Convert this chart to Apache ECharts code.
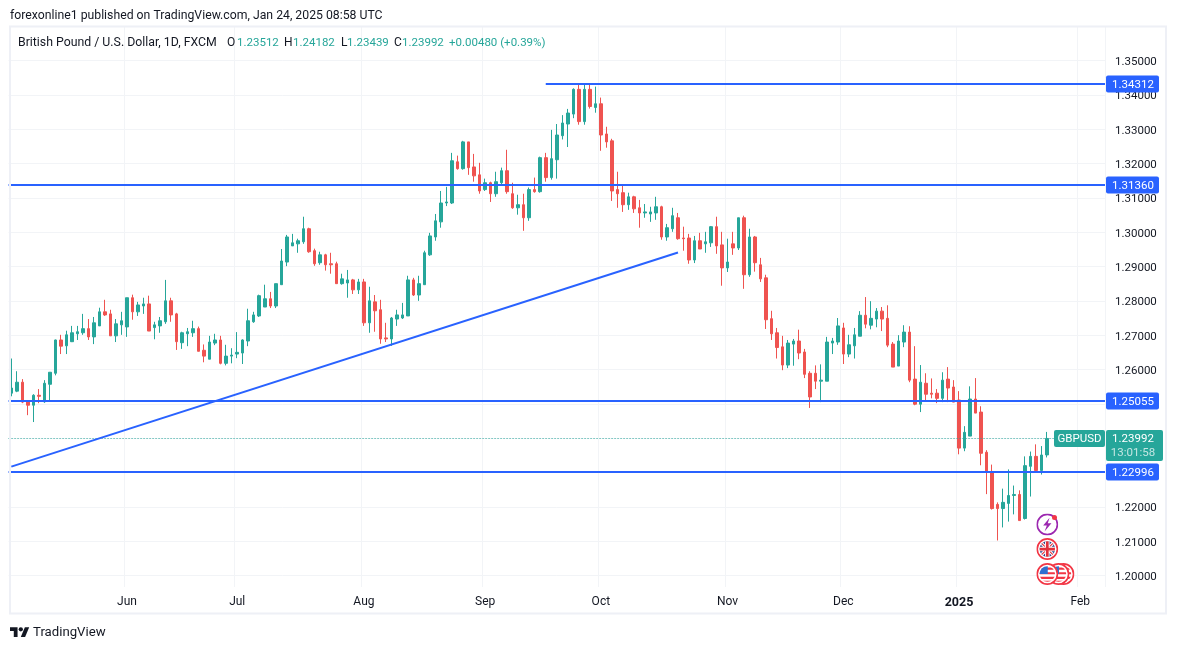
<!DOCTYPE html>
<html>
<head>
<meta charset="utf-8">
<title>GBPUSD</title>
<script src="https://cdn.jsdelivr.net/npm/echarts@6/dist/echarts.min.js"></script>
<style>
  html, body { margin: 0; padding: 0; background: #fff; }
  #chart { width: 1177px; height: 650px; }
</style>
</head>
<body>
<div id="chart"></div>
<script>
const UP = '#26a69a'
const DOWN = '#ef5350'
const BLUE = '#2962ff'
const GRID = '#f2f4f7'
const FONT = 'Roboto, sans-serif'

// daily bars, May 3 2024 - Jan 24 2025: open, close, low, high
const bars = [
  [1.2531,1.2546,1.2522,1.2632],[1.2537,1.2563,1.2534,1.2595],[1.2563,1.2505,1.2502,1.2572],[1.2508,1.2496,1.2467,1.2511],
  [1.2496,1.2525,1.2447,1.2528],[1.2525,1.2522,1.2502,1.2543],[1.2506,1.2560,1.2503,1.2569],[1.2557,1.2592,1.2511,1.2592],
  [1.2589,1.2686,1.2583,1.2687],[1.2686,1.2668,1.2645,1.2701],[1.2669,1.2701,1.2645,1.2713],[1.2681,1.2707,1.2680,1.2727],
  [1.2704,1.2710,1.2686,1.2727],[1.2707,1.2719,1.2701,1.2762],[1.2719,1.2695,1.2686,1.2747],[1.2695,1.2736,1.2674,1.2753],
  [1.2727,1.2768,1.2727,1.2780],[1.2768,1.2759,1.2756,1.2803],[1.2762,1.2698,1.2698,1.2774],[1.2698,1.2733,1.2680,1.2747],
  [1.2730,1.2742,1.2701,1.2768],[1.2724,1.2809,1.2695,1.2809],[1.2809,1.2768,1.2745,1.2818],[1.2768,1.2788,1.2756,1.2797],
  [1.2785,1.2791,1.2762,1.2809],[1.2791,1.2712,1.2712,1.2815],[1.2722,1.2730,1.2688,1.2739],[1.2727,1.2742,1.2707,1.2753],
  [1.2739,1.2800,1.2733,1.2861],[1.2800,1.2759,1.2739,1.2809],[1.2762,1.2681,1.2657,1.2765],[1.2678,1.2707,1.2660,1.2710],
  [1.2704,1.2710,1.2668,1.2721],[1.2707,1.2719,1.2695,1.2742],[1.2719,1.2653,1.2653,1.2725],[1.2656,1.2639,1.2621,1.2673],
  [1.2630,1.2680,1.2630,1.2698],[1.2677,1.2686,1.2671,1.2704],[1.2686,1.2618,1.2615,1.2698],[1.2618,1.2639,1.2612,1.2672],
  [1.2639,1.2642,1.2618,1.2662],[1.2645,1.2650,1.2633,1.2709],[1.2648,1.2686,1.2616,1.2688],[1.2683,1.2742,1.2668,1.2777],
  [1.2739,1.2759,1.2736,1.2768],[1.2756,1.2815,1.2753,1.2818],[1.2782,1.2806,1.2782,1.2847],[1.2806,1.2785,1.2779,1.2826],
  [1.2785,1.2850,1.2779,1.2850],[1.2847,1.2916,1.2847,1.2951],[1.2913,1.2986,1.2901,1.2992],[1.2960,1.2969,1.2960,1.2995],
  [1.2966,1.2975,1.2940,1.2981],[1.2972,1.3010,1.2966,1.3045],[1.3010,1.2943,1.2940,1.3013],[1.2946,1.2908,1.2902,1.2952],
  [1.2911,1.2934,1.2905,1.2943],[1.2934,1.2905,1.2888,1.2937],[1.2908,1.2905,1.2879,1.2940],[1.2908,1.2850,1.2850,1.2914],
  [1.2850,1.2864,1.2847,1.2879],[1.2852,1.2861,1.2809,1.2890],[1.2861,1.2832,1.2820,1.2864],[1.2832,1.2855,1.2820,1.2864],
  [1.2855,1.2736,1.2727,1.2864],[1.2736,1.2800,1.2707,1.2841],[1.2797,1.2771,1.2710,1.2817],[1.2774,1.2689,1.2675,1.2803],
  [1.2692,1.2689,1.2680,1.2736],[1.2689,1.2750,1.2669,1.2753],[1.2747,1.2759,1.2727,1.2774],[1.2750,1.2759,1.2747,1.2794],
  [1.2756,1.2861,1.2756,1.2873],[1.2861,1.2817,1.2814,1.2867],[1.2817,1.2850,1.2800,1.2873],[1.2847,1.2940,1.2847,1.2946],
  [1.2934,1.2989,1.2931,1.2998],[1.2986,1.3033,1.2975,1.3053],[1.3030,1.3085,1.3013,1.3120],[1.3085,1.3088,1.3076,1.3132],
  [1.3085,1.3208,1.3082,1.3231],[1.3205,1.3185,1.3182,1.3223],[1.3185,1.3263,1.3182,1.3266],[1.3263,1.3188,1.3167,1.3263],
  [1.3190,1.3164,1.3147,1.3228],[1.3167,1.3120,1.3112,1.3202],[1.3124,1.3144,1.3120,1.3156],[1.3144,1.3112,1.3088,1.3147],
  [1.3112,1.3147,1.3103,1.3176],[1.3144,1.3179,1.3138,1.3188],[1.3179,1.3118,1.3112,1.3240],[1.3112,1.3071,1.3068,1.3144],
  [1.3071,1.3080,1.3051,1.3109],[1.3080,1.3042,1.3004,1.3112],[1.3042,1.3124,1.3033,1.3130],[1.3124,1.3118,1.3115,1.3159],
  [1.3118,1.3217,1.3115,1.3220],[1.3217,1.3159,1.3147,1.3231],[1.3159,1.3214,1.3153,1.3298],[1.3211,1.3283,1.3156,1.3315],
  [1.3281,1.3318,1.3270,1.3341],[1.3315,1.3347,1.3248,1.3359],[1.3344,1.3416,1.3332,1.3419],[1.3416,1.3322,1.3313,1.3431],
  [1.3322,1.3416,1.3313,1.3434],[1.3416,1.3366,1.3360,1.3431],[1.3363,1.3374,1.3348,1.3424],[1.3374,1.3283,1.3237,1.3392],
  [1.3286,1.3263,1.3246,1.3307],[1.3266,1.3120,1.3091,1.3272],[1.3124,1.3112,1.3071,1.3176],[1.3115,1.3080,1.3059,1.3135],
  [1.3080,1.3103,1.3065,1.3115],[1.3103,1.3068,1.3056,1.3106],[1.3071,1.3056,1.3013,1.3094],[1.3056,1.3059,1.3042,1.3082],
  [1.3053,1.3059,1.3030,1.3074],[1.3056,1.3074,1.3036,1.3103],[1.3074,1.2986,1.2978,1.3077],[1.2986,1.3013,1.2975,1.3024],
  [1.3010,1.3048,1.3001,1.3071],[1.3042,1.2981,1.2978,1.3056],[1.2983,1.2981,1.2946,1.3016],[1.2983,1.2919,1.2908,1.2995],
  [1.2919,1.2975,1.2910,1.2989],[1.2975,1.2951,1.2951,1.2998],[1.2966,1.2972,1.2940,1.3001],[1.2969,1.3016,1.2957,1.3018],
  [1.3016,1.2960,1.2937,1.3045],[1.2963,1.2896,1.2844,1.3001],[1.2896,1.2913,1.2884,1.2981],[1.2966,1.2954,1.2934,1.3001],
  [1.2954,1.3042,1.2948,1.3042],[1.3042,1.2876,1.2835,1.3048],[1.2876,1.2986,1.2870,1.3010],[1.2986,1.2911,1.2885,1.2989],
  [1.2905,1.2864,1.2855,1.2925],[1.2867,1.2745,1.2718,1.2876],[1.2748,1.2704,1.2686,1.2771],[1.2707,1.2664,1.2632,1.2721],
  [1.2666,1.2613,1.2598,1.2698],[1.2613,1.2677,1.2604,1.2686],[1.2674,1.2683,1.2611,1.2689],[1.2683,1.2648,1.2630,1.2716],
  [1.2651,1.2586,1.2575,1.2660],[1.2589,1.2520,1.2488,1.2595],[1.2589,1.2566,1.2543,1.2612],[1.2566,1.2569,1.2505,1.2615],
  [1.2566,1.2680,1.2566,1.2695],[1.2677,1.2683,1.2645,1.2692],[1.2680,1.2727,1.2672,1.2750],[1.2721,1.2645,1.2616,1.2736],
  [1.2645,1.2672,1.2636,1.2701],[1.2669,1.2701,1.2632,1.2721],[1.2697,1.2758,1.2697,1.2770],[1.2758,1.2732,1.2720,1.2811],
  [1.2729,1.2749,1.2717,1.2799],[1.2747,1.2770,1.2723,1.2779],[1.2770,1.2747,1.2712,1.2782],[1.2749,1.2671,1.2665,1.2787],
  [1.2674,1.2607,1.2607,1.2680],[1.2610,1.2683,1.2610,1.2700],[1.2680,1.2709,1.2665,1.2729],[1.2709,1.2569,1.2563,1.2726],
  [1.2572,1.2499,1.2496,1.2668],[1.2499,1.2563,1.2476,1.2613],[1.2560,1.2528,1.2511,1.2589],[1.2531,1.2528,1.2516,1.2574],
  [1.2531,1.2516,1.2502,1.2543],[1.2516,1.2569,1.2505,1.2592],[1.2572,1.2546,1.2505,1.2607],[1.2549,1.2505,1.2505,1.2569],
  [1.2511,1.2371,1.2353,1.2537],[1.2371,1.2417,1.2362,1.2435],[1.2406,1.2514,1.2406,1.2551],[1.2514,1.2473,1.2473,1.2575],
  [1.2476,1.2356,1.2321,1.2493],[1.2359,1.2301,1.2237,1.2365],[1.2303,1.2195,1.2192,1.2323],[1.2207,1.2195,1.2102,1.2213],
  [1.2195,1.2213,1.2140,1.2253],[1.2210,1.2233,1.2157,1.2309],[1.2233,1.2236,1.2178,1.2262],[1.2236,1.2160,1.2160,1.2248],
  [1.2166,1.2320,1.2163,1.2347],[1.2318,1.2347,1.2230,1.2361],[1.2347,1.2306,1.2306,1.2382],[1.2306,1.2351,1.2294,1.2377],
  [1.23512,1.23992,1.23439,1.24182]
]

// weekdays without the two days FXCM is shut, plus the empty room on the right
const dates = []
const day = new Date(Date.UTC(2024, 4, 3))
while (dates.length < 199) {
  const iso = day.toISOString().slice(0, 10)
  const wd = day.getUTCDay()
  if (wd !== 0 && wd !== 6 && iso !== '2024-12-25' && iso !== '2025-01-01') dates.push(iso)
  day.setUTCDate(day.getUTCDate() + 1)
}

const MONTHS = ['Jan', 'Feb', 'Mar', 'Apr', 'May', 'Jun', 'Jul', 'Aug', 'Sep', 'Oct', 'Nov', 'Dec']
const isMonthStart = (index) => index > 0 && dates[index].slice(5, 7) !== dates[index - 1].slice(5, 7)

const priceTicks = []
for (let i = 120; i <= 135; i++) priceTicks.push(i / 100)

// drawing tools on the chart: from/to are bar indexes, toEnd runs on to the plot edge
const drawings = [
  { from: 97, start: 1.34312, end: 1.34312, toEnd: true },
  { from: 0, start: 1.3136, end: 1.3136, toEnd: true, fromEdge: true },
  { from: 0, start: 1.25055, end: 1.25055, toEnd: true, fromEdge: true },
  { from: 0, start: 1.22996, end: 1.22996, toEnd: true, fromEdge: true },
  { from: 0, to: 121, start: 1.2317, end: 1.2941 }
]
const tags = [1.34312, 1.3136, 1.25055, 1.22996]
const lastPrice = bars[bars.length - 1][1]

const renderDrawing = (params, api) => {
  const d = drawings[params.dataIndex]
  const box = params.coordSys
  const a = api.coord([d.from, d.start])
  const b = api.coord([d.to === undefined ? d.from : d.to, d.end])
  // horizontals sit on whole pixels so they stay sharp
  const flat = d.start === d.end
  return {
    type: 'line',
    shape: {
      x1: d.fromEdge ? box.x : a[0],
      y1: flat ? Math.floor(a[1]) : a[1],
      x2: d.toEnd ? box.x + box.width : b[0],
      y2: flat ? Math.floor(b[1]) : b[1]
    },
    style: { stroke: BLUE, lineWidth: 2 }
  }
}

const tagText = (text, x, y, fill) => ({
  type: 'text',
  style: { text, x, y, fill, font: '11.5px ' + FONT, align: 'center', verticalAlign: 'middle' }
})

const renderTag = (params, api) => {
  const price = tags[params.dataIndex]
  const box = params.coordSys
  const y = Math.floor(api.coord([0, price])[1])
  const x = box.x + box.width + 1
  return {
    type: 'group',
    children: [
      { type: 'rect', shape: { x, y: y - 8.5, width: 53, height: 17, r: 2 }, style: { fill: BLUE } },
      tagText(price.toFixed(5), x + 27, y + 1, '#fff')
    ]
  }
}

const renderLast = (params, api) => {
  const box = params.coordSys
  const y = Math.round(api.coord([0, lastPrice])[1]) + 0.5
  const x = box.x + box.width + 1
  return {
    type: 'group',
    children: [
      {
        type: 'line',
        shape: { x1: box.x, y1: y, x2: x - 52, y2: y },
        style: { stroke: UP, lineWidth: 1, lineDash: [1, 2] }
      },
      { type: 'rect', shape: { x: x - 52, y: y - 8.5, width: 51, height: 17, r: 2 }, style: { fill: UP } },
      tagText('GBPUSD', x - 26.5, y + 1, '#fff'),
      { type: 'rect', shape: { x, y: y - 8.5, width: 57, height: 31, r: 2 }, style: { fill: UP } },
      tagText(lastPrice.toFixed(5), x + 27, y + 1, '#fff'),
      tagText('13:01:58', x + 27, y + 15, '#c4e6e2')
    ]
  }
}

// little event badges at the bottom of the chart
const badge = (inner, ring) => {
  const svg = '<svg xmlns="http://www.w3.org/2000/svg" width="48" height="48" viewBox="0 0 24 24">' +
    '<defs><clipPath id="c"><circle cx="12" cy="12" r="8.4"/></clipPath></defs>' +
    '<circle cx="12" cy="12" r="11" fill="#fff" stroke="' + ring + '" stroke-width="1.8"/>' +
    '<g clip-path="url(#c)">' + inner + '</g></svg>'
  return 'data:image/svg+xml;charset=utf-8,' + encodeURIComponent(svg)
}
const usFlag = '<rect width="24" height="24" fill="#fff"/>' +
  '<path d="M0 5h24v2.4H0zM0 10h24v2.4H0zM0 15h24v2.4H0zM0 19.4h24v3H0z" fill="#f23645"/>' +
  '<rect x="3" y="3" width="9.5" height="9" fill="#2f6fd0"/>'
const ukFlag = '<rect width="24" height="24" fill="#27408b"/>' +
  '<path d="M2 2l20 20M22 2L2 22" stroke="#fff" stroke-width="3.4"/>' +
  '<path d="M2 2l20 20M22 2L2 22" stroke="#e0303c" stroke-width="1.2"/>' +
  '<path d="M12 0v24M0 12h24" stroke="#fff" stroke-width="5"/>' +
  '<path d="M12 0v24M0 12h24" stroke="#e0303c" stroke-width="3"/>'
const bolt = '<path d="M14.5 4.5L7.5 13h4l-2.5 6.5 7.5-8.8h-4z" fill="#9c27b0"/>'

const badgeAt = (uri, x, y) => ({
  type: 'image',
  z: 10,
  style: { image: uri, x: x - 11, y: y - 11, width: 22, height: 22 }
})

const label = (text, x, color, size) => ({
  type: 'text',
  z: 10,
  x,
  y: 43,
  style: { text, fill: color, font: (size || 11.5) + 'px ' + FONT, verticalAlign: 'middle' }
})

const option = {
  animation: false,
  backgroundColor: '#fff',
  textStyle: { fontFamily: FONT },
  grid: { left: 8.55, top: 27, width: 1096.45, height: 560 },
  xAxis: {
    type: 'category',
    data: dates,
    boundaryGap: true,
    axisLine: { show: false },
    axisTick: { show: false },
    axisLabel: {
      interval: (index) => isMonthStart(index),
      hideOverlap: false,
      margin: 9,
      fontSize: 12,
      color: '#131722',
      formatter: (value) => {
        const [year, month] = value.split('-')
        return month === '01' ? '{year|' + year + '}' : MONTHS[Number(month) - 1]
      },
      rich: { year: { fontWeight: 'bold', fontSize: 12.5, color: '#131722' } }
    },
    splitLine: {
      show: true,
      interval: (index) => isMonthStart(index),
      lineStyle: { color: GRID, width: 1 }
    }
  },
  yAxis: {
    type: 'value',
    position: 'right',
    min: 1.19665,
    max: 1.35976,
    scale: true,
    axisLine: { show: false },
    axisTick: { show: false, customValues: priceTicks },
    axisLabel: {
      customValues: priceTicks,
      margin: 10,
      formatter: (value) => '{p|' + value.toFixed(5) + '}',
      rich: { p: { fontSize: 11.5, color: '#131722', padding: [3, 0, 0, 0] } }
    },
    splitLine: { show: true, lineStyle: { color: GRID, width: 1 } }
  },
  series: [
    {
      type: 'candlestick',
      data: bars,
      barWidth: 3,
      itemStyle: {
        color: UP,
        color0: DOWN,
        borderColor: UP,
        borderColor0: DOWN,
        borderWidth: 1
      }
    },
    {
      type: 'custom',
      z: 5,
      clip: false,
      silent: true,
      data: [[0, lastPrice]],
      renderItem: renderLast
    },
    {
      type: 'custom',
      z: 6,
      clip: true,
      silent: true,
      data: drawings.map((d) => [d.from, d.start]),
      renderItem: renderDrawing
    },
    {
      type: 'custom',
      z: 7,
      clip: false,
      silent: true,
      data: tags.map((price) => [0, price]),
      renderItem: renderTag
    }
  ],
  graphic: [
    {
      type: 'rect',
      z: 8,
      silent: true,
      shape: { x: 10, y: 26.5, width: 1156, height: 587 },
      style: { fill: 'none', stroke: '#eef0f6', lineWidth: 2 }
    },
    {
      type: 'text',
      x: 10,
      y: 15.5,
      style: {
        text: 'forexonline1 published on TradingView.com, Jan 24, 2025 08:58 UTC',
        fill: '#131722',
        font: '12.25px ' + FONT,
        verticalAlign: 'middle'
      }
    },
    label('British Pound / U.S. Dollar, 1D, FXCM', 18, '#131722', 12.3),
    label('O', 227, '#131722', 12),
    label('1.23512', 237, UP),
    label('H', 284, '#131722', 12),
    label('1.24182', 293, UP),
    label('L', 341, '#131722', 12),
    label('1.23439', 347, UP),
    label('C', 394, '#131722', 12),
    label('1.23992', 402, UP),
    label('+0.00480 (+0.39%)', 449, UP),
    {
      type: 'group',
      x: 10,
      y: 625,
      scaleX: 0.54,
      scaleY: 0.54,
      children: [
        { type: 'polygon', shape: { points: [[0, 4], [14, 4], [14, 22], [7, 22], [7, 11], [0, 11]] }, style: { fill: '#131722' } },
        { type: 'polygon', shape: { points: [[27.5, 4], [35.5, 4], [28, 22], [20, 22]] }, style: { fill: '#131722' } },
        { type: 'circle', shape: { cx: 20, cy: 8, r: 4 }, style: { fill: '#131722' } }
      ]
    },
    {
      type: 'text',
      x: 33,
      y: 633,
      style: { text: 'TradingView', fill: '#131722', font: '13.2px ' + FONT, verticalAlign: 'middle' }
    },
    badgeAt(badge(usFlag, '#f23645'), 1063.5, 574),
    badgeAt(badge(usFlag, '#f23645'), 1058.5, 574),
    badgeAt(badge(usFlag, '#f23645'), 1047.3, 574),
    badgeAt(badge(ukFlag, '#f23645'), 1047.3, 549),
    badgeAt(badge(bolt, '#9c27b0'), 1047.3, 524.5),
    { type: 'circle', z: 11, shape: { cx: 1054.5, cy: 517.5, r: 2.5 }, style: { fill: '#f23645' } }
  ]
}

const chart = echarts.init(document.getElementById('chart'))
chart.setOption(option)
</script>
</body>
</html>
